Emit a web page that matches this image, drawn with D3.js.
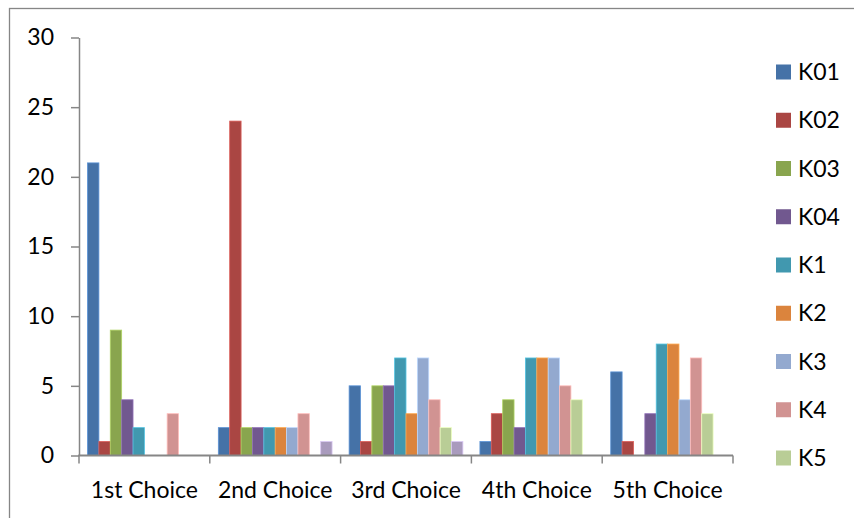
<!DOCTYPE html>
<html>
<head>
<meta charset="utf-8">
<script src="https://cdn.jsdelivr.net/npm/d3@7"></script>
<style>
  html, body { margin: 0; padding: 0; background: #fff; }
  svg { display: block; }
  text { font-family: Lato, "Open Sans", sans-serif; fill: #000; }
</style>
</head>
<body>
<svg id="chart" width="854" height="518"></svg>
<script>
// Rankings: how many times each option was picked at each choice position
const categories = ["1st Choice", "2nd Choice", "3rd Choice", "4th Choice", "5th Choice"];
const seriesNames = ["K01", "K02", "K03", "K04", "K1", "K2", "K3", "K4", "K5", "K6"];
const legendNames = ["K01", "K02", "K03", "K04", "K1", "K2", "K3", "K4", "K5"];
const seriesColors = ["#4572A7", "#AA4643", "#89A54E", "#71588F", "#4198AF",
                      "#DB843D", "#93A9CF", "#D19392", "#B9CD96", "#A99BBD"];
const K01 = [21, 2, 5, 1, 6];
const K02 = [1, 24, 1, 3, 1];
const K03 = [9, 2, 5, 4, 0];
const K04 = [4, 2, 5, 2, 3];
const K1  = [2, 2, 7, 7, 8];
const K2  = [0, 2, 3, 7, 8];
const K3  = [0, 2, 7, 7, 4];
const K4  = [3, 3, 4, 5, 7];
const K5  = [0, 0, 2, 4, 3];
const K6  = [0, 1, 1, 0, 0];
const yTicks = [0, 5, 10, 15, 20, 25, 30];

const seriesValues = [K01, K02, K03, K04, K1, K2, K3, K4, K5, K6];

const svg = d3.select("#chart");
const axisColor = "#868686";
const fontSize = 23;

// Outer chart frame (top and left edges fall inside the canvas)
svg.append("rect")
  .attr("x", 9.5).attr("y", 8.5)
  .attr("width", 900).attr("height", 600)
  .attr("fill", "none")
  .attr("stroke", axisColor)
  .attr("stroke-width", 1.3);

const plot = { left: 79, right: 733, top: 37.5, bottom: 455.5 };

const x0 = d3.scaleBand()
  .domain(categories)
  .range([plot.left, plot.right])
  .paddingInner(0).paddingOuter(0);

// Gap width of 150%: ten bars plus 1.5 bar widths of space per category
const bw = x0.bandwidth() / (seriesNames.length + 1.5);
const x1 = d3.scaleBand()
  .domain(seriesNames)
  .range([0.75 * bw, x0.bandwidth() - 0.75 * bw])
  .padding(0);

const y = d3.scaleLinear().domain([0, 30]).range([plot.bottom, plot.top]);

// Bars
const rows = [];
categories.forEach((c, ci) => {
  seriesNames.forEach((s, si) => {
    rows.push({ cat: c, name: s, value: seriesValues[si][ci], color: seriesColors[si] });
  });
});

svg.append("g")
  .selectAll("rect")
  .data(rows.filter(d => d.value > 0))
  .join("rect")
  .attr("x", d => x0(d.cat) + x1(d.name))
  .attr("y", d => y(d.value))
  .attr("width", x1.bandwidth())
  .attr("height", d => y(0) - y(d.value))
  .attr("fill", d => d.color)
  .attr("stroke", d => d3.color(d.color).brighter(0.7))
  .attr("stroke-width", 0.8);

// Value axis
const yAxis = svg.append("g")
  .attr("transform", `translate(${plot.left},0)`)
  .call(d3.axisLeft(y).tickValues(yTicks).tickSize(8).tickPadding(17).tickSizeOuter(0));
yAxis.select(".domain").attr("stroke", axisColor).attr("stroke-width", 1.5);
yAxis.selectAll(".tick line").attr("stroke", axisColor).attr("stroke-width", 1.5);
yAxis.selectAll(".tick text")
  .attr("font-size", fontSize)
  .attr("font-family", "Lato, 'Open Sans', sans-serif")
  .attr("fill", "#000");

// Category axis with tick marks on band boundaries
const xAxis = svg.append("g")
  .attr("transform", `translate(0,${plot.bottom})`);
xAxis.append("line")
  .attr("x1", plot.left - 0.75).attr("x2", plot.right)
  .attr("stroke", axisColor).attr("stroke-width", 2);
const bounds = categories.map(c => x0(c)).concat([plot.right]);
xAxis.selectAll("line.tick")
  .data(bounds)
  .join("line")
  .attr("class", "tick")
  .attr("x1", d => d).attr("x2", d => d)
  .attr("y1", 0).attr("y2", 8)
  .attr("stroke", axisColor).attr("stroke-width", 1.5);
xAxis.selectAll("text")
  .data(categories)
  .join("text")
  .attr("x", d => x0(d) + x0.bandwidth() / 2)
  .attr("y", 42)
  .attr("text-anchor", "middle")
  .attr("font-size", fontSize)
  .text(d => d);

// Legend
const legend = svg.append("g")
  .selectAll("g")
  .data(legendNames)
  .join("g")
  .attr("transform", (d, i) => `translate(776,${72 + i * 48.25})`);
legend.append("rect")
  .attr("x", 0).attr("y", -7.5)
  .attr("width", 15).attr("height", 15)
  .attr("fill", (d, i) => seriesColors[i]);
legend.append("text")
  .attr("x", 22).attr("y", 0)
  .attr("dy", "0.35em")
  .attr("font-size", fontSize)
  .text(d => d);
</script>
</body>
</html>
